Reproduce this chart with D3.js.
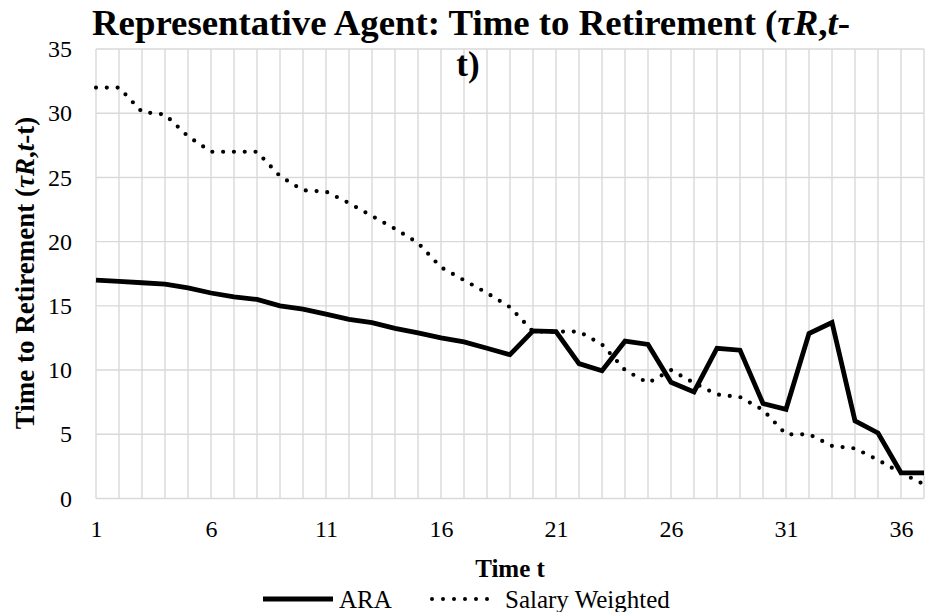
<!DOCTYPE html>
<html>
<head>
<meta charset="utf-8">
<script src="https://cdn.jsdelivr.net/npm/d3@7/dist/d3.min.js"></script>
<style>
  html, body { margin: 0; padding: 0; background: #fff; }
  svg { display: block; }
  svg text { font-family: "Liberation Serif", "Times New Roman", serif !important; fill: #000; }
</style>
</head>
<body>
<svg id="chart" width="926" height="612"></svg>
<script>
// ---- data ----
const timeT = d3.range(1, 38);
const araValues = [17.0, 16.9, 16.8, 16.7, 16.4, 16.0, 15.7, 15.5, 15.0, 14.75, 14.35, 13.95, 13.7, 13.25, 12.9, 12.5, 12.2, 11.7, 11.2, 13.05, 13.0, 10.5, 9.95, 12.25, 12.0, 9.05, 8.3, 11.7, 11.55, 7.4, 6.95, 12.85, 13.7, 6.05, 5.1, 2.0, 2.0];
const salaryValues = [32.0, 32.0, 30.1, 29.9, 28.2, 27.0, 27.0, 27.0, 25.1, 24.0, 23.9, 23.0, 22.0, 21.0, 19.9, 18.0, 17.0, 16.0, 14.9, 13.0, 13.0, 13.0, 12.0, 10.0, 9.0, 10.0, 9.0, 8.1, 7.9, 6.9, 5.0, 5.0, 4.1, 3.9, 3.0, 2.0, 1.1];
const xTickLabels = [1, 6, 11, 16, 21, 26, 31, 36];
const yTickLabels = [0, 5, 10, 15, 20, 25, 30, 35];
const seriesNames = ["ARA", "Salary Weighted"];

const FONT = "'Liberation Serif', 'Times New Roman', serif";
const svg = d3.select("#chart");
const pLeft = 96, pRight = 924, pTop = 49, pBottom = 498.5;

const x = d3.scaleLinear().domain([1, 37]).range([pLeft, pRight]);
const y = d3.scaleLinear().domain([0, 35]).range([pBottom, pTop]);

const grid = "#d9d9d9";

// vertical gridlines (one per category)
svg.append("g").selectAll("line").data(timeT).join("line")
  .attr("x1", d => x(d)).attr("x2", d => x(d))
  .attr("y1", pTop).attr("y2", pBottom)
  .attr("stroke", grid).attr("stroke-width", 1.4);

// horizontal gridlines
svg.append("g").selectAll("line").data(yTickLabels).join("line")
  .attr("x1", pLeft).attr("x2", pRight)
  .attr("y1", d => y(d)).attr("y2", d => y(d))
  .attr("stroke", grid).attr("stroke-width", 1.4);

// y axis labels
const yAxis = svg.append("g").attr("transform", `translate(${pLeft},0)`)
  .call(d3.axisLeft(y).tickValues(yTickLabels).tickSize(0).tickPadding(24).tickFormat(d3.format("d")));
yAxis.attr("font-family", FONT);
yAxis.select(".domain").remove();
yAxis.selectAll("text").attr("font-size", 24).attr("fill", "#000").style("font-family", FONT);

// x axis labels
const xAxis = svg.append("g").attr("transform", `translate(0,${pBottom})`)
  .call(d3.axisBottom(x).tickValues(xTickLabels).tickSize(0).tickPadding(21).tickFormat(d3.format("d")));
xAxis.attr("font-family", FONT);
xAxis.select(".domain").remove();
xAxis.selectAll("text").attr("font-size", 24).attr("fill", "#000").style("font-family", FONT);

// lines
const line = d3.line().x((d, i) => x(timeT[i])).y(d => y(d));
svg.append("path").datum(araValues)
  .attr("d", line).attr("fill", "none").attr("stroke", "#000")
  .attr("stroke-width", 4.8).attr("stroke-linejoin", "miter");
svg.append("path").datum(salaryValues)
  .attr("d", line).attr("fill", "none").attr("stroke", "#000")
  .attr("stroke-width", 4.2).attr("stroke-linecap", "round")
  .attr("stroke-dasharray", "0 10.8");

// title
const title = svg.append("text")
  .attr("x", 471).attr("y", 35).attr("text-anchor", "middle")
  .attr("font-size", 35).attr("font-weight", "bold").style("font-family", FONT)
  .attr("textLength", 758).attr("lengthAdjust", "spacingAndGlyphs");
title.append("tspan").text("Representative Agent: Time to Retirement (");
title.append("tspan").attr("font-style", "italic").text("τR");
title.append("tspan").text(",");
title.append("tspan").attr("font-style", "italic").text("t");
title.append("tspan").text("-");
svg.append("text").attr("x", 468).attr("y", 76).attr("text-anchor", "middle")
  .attr("font-size", 35).attr("font-weight", "bold").style("font-family", FONT).text("t)");

// y axis title
const yt = svg.append("text")
  .attr("transform", "translate(34,273) rotate(-90)")
  .attr("text-anchor", "middle").attr("font-size", 27).attr("font-weight", "bold")
  .style("font-family", FONT);
yt.append("tspan").text("Time to Retirement (");
yt.append("tspan").attr("font-style", "italic").text("τR");
yt.append("tspan").text(",");
yt.append("tspan").attr("font-style", "italic").text("t");
yt.append("tspan").text("-t)");

// x axis title
svg.append("text").attr("x", 510).attr("y", 577).attr("text-anchor", "middle")
  .attr("font-size", 25).attr("font-weight", "bold").style("font-family", FONT).text("Time t");

// legend
const legY = 599;
const leg = svg.append("g");
leg.append("line").attr("x1", 263).attr("x2", 333).attr("y1", legY).attr("y2", legY)
  .attr("stroke", "#000").attr("stroke-width", 5);
leg.append("text").attr("x", 339).attr("y", legY + 9).attr("font-size", 25)
  .style("font-family", FONT).text(seriesNames[0]);
leg.append("line").attr("x1", 432).attr("x2", 498).attr("y1", legY).attr("y2", legY)
  .attr("stroke", "#000").attr("stroke-width", 4).attr("stroke-linecap", "round")
  .attr("stroke-dasharray", "0 11");
leg.append("text").attr("x", 505).attr("y", legY + 9).attr("font-size", 25)
  .style("font-family", FONT).text(seriesNames[1]);
</script>
</body>
</html>
